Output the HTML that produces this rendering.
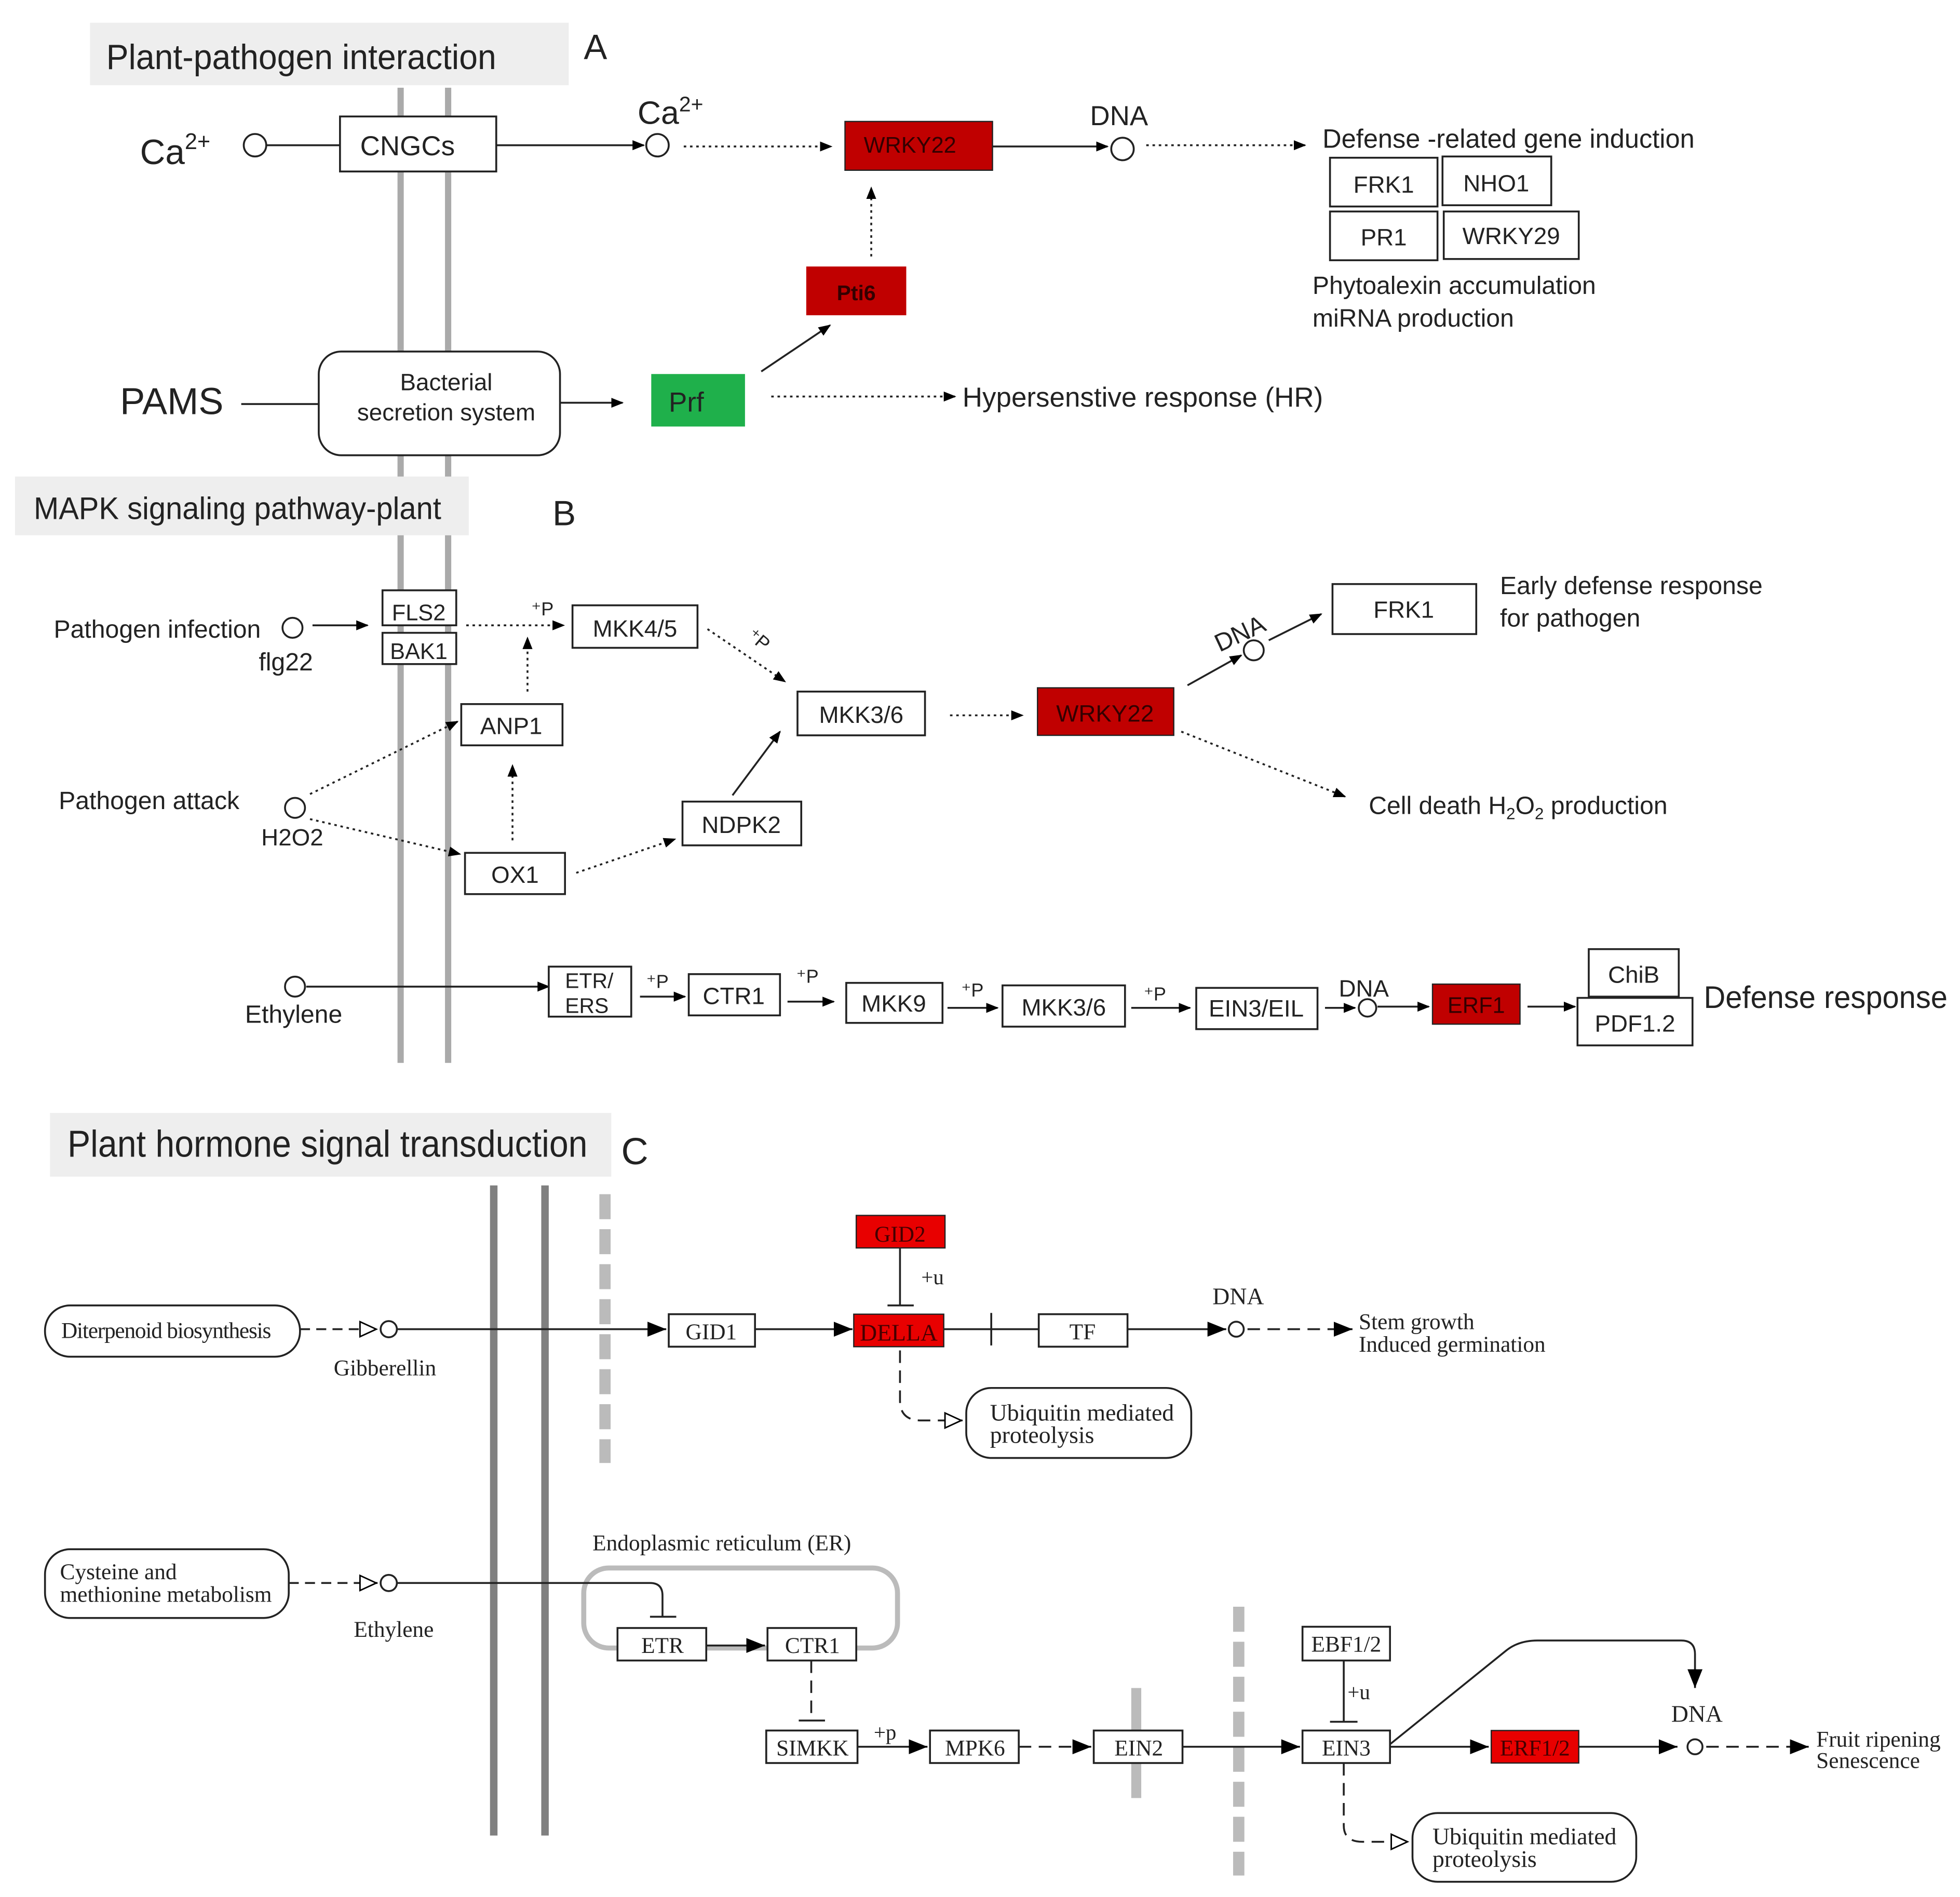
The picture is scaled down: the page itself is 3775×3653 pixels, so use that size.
<!DOCTYPE html>
<html><head><meta charset="utf-8"><style>html,body{margin:0;padding:0;background:#fff}svg{display:block}</style></head>
<body>
<svg xmlns="http://www.w3.org/2000/svg" width="3775" height="3653" viewBox="0 0 1568 1517">
<defs>
<marker id="a" markerWidth="10" markerHeight="10" refX="9" refY="5" orient="auto" markerUnits="userSpaceOnUse"><path d="M0,1 L10,5 L0,9 Z" fill="#000"/></marker>
<marker id="b" markerWidth="16" markerHeight="14" refX="15" refY="7" orient="auto" markerUnits="userSpaceOnUse"><path d="M0,1 L15,7 L0,13 Z" fill="#000"/></marker>
<marker id="o" markerWidth="16" markerHeight="14" refX="15" refY="7" orient="auto" markerUnits="userSpaceOnUse"><path d="M1,1 L14,7 L1,13 Z" fill="#fff" stroke="#000" stroke-width="1.2"/></marker>
</defs>
<rect width="1568" height="1517" fill="#fff"/>
<g font-family="Liberation Sans, sans-serif" fill="#222">
<!-- Section A -->
<rect x="72" y="18" width="383" height="50" fill="#eee"/>
<text x="85" y="55" font-size="28" textLength="312" lengthAdjust="spacingAndGlyphs">Plant-pathogen interaction</text>
<text x="467" y="47" font-size="28">A</text>
<rect x="318" y="70" width="5" height="780" fill="#aaa"/>
<rect x="356" y="70" width="5" height="780" fill="#aaa"/>
<g stroke="#222" stroke-width="1.5" fill="none">
<circle cx="204" cy="116" r="9" fill="#fff"/>
<line x1="213" y1="116" x2="272" y2="116"/>
<rect x="272" y="93" width="125" height="44" fill="#fff"/>
<line x1="397" y1="116" x2="515" y2="116" marker-end="url(#a)"/>
<circle cx="526" cy="116" r="9" fill="#fff"/>
<line x1="547" y1="117" x2="665" y2="117" stroke-dasharray="2,3" marker-end="url(#a)"/>
<line x1="794" y1="117" x2="886" y2="117" marker-end="url(#a)"/>
<circle cx="898" cy="119" r="9" fill="#fff"/>
<line x1="917" y1="116" x2="1044" y2="116" stroke-dasharray="2,3" marker-end="url(#a)"/>
<rect x="1064" y="126" width="86" height="39"/>
<rect x="1154" y="125" width="87" height="39"/>
<rect x="1064" y="169" width="86" height="39"/>
<rect x="1155" y="169" width="108" height="38"/>
<line x1="697" y1="205" x2="697" y2="150" stroke-dasharray="2,3" marker-end="url(#a)"/>
<line x1="193" y1="323" x2="255" y2="323"/>
<rect x="255" y="281" width="193" height="83" rx="18" fill="#fff"/>
<line x1="448" y1="322" x2="498" y2="322" marker-end="url(#a)"/>
<line x1="609" y1="297" x2="664" y2="260" marker-end="url(#a)"/>
<line x1="617" y1="317" x2="764" y2="317" stroke-dasharray="2,3" marker-end="url(#a)"/>
</g>
<text x="112" y="131" font-size="28">Ca<tspan font-size="18" dy="-12">2+</tspan></text>
<text x="326" y="124" font-size="22" text-anchor="middle">CNGCs</text>
<text x="510" y="99" font-size="26">Ca<tspan font-size="17" dy="-10">2+</tspan></text>
<rect x="676" y="97" width="118" height="39" fill="#c00000" stroke="#222"/>
<text x="728" y="122" font-size="18" text-anchor="middle" fill="#300">WRKY22</text>
<text x="872" y="100" font-size="22">DNA</text>
<text x="1058" y="118" font-size="21">Defense  -related gene induction</text>
<text x="1107" y="154" font-size="19" text-anchor="middle">FRK1</text>
<text x="1197" y="153" font-size="19" text-anchor="middle">NHO1</text>
<text x="1107" y="196" font-size="19" text-anchor="middle">PR1</text>
<text x="1209" y="195" font-size="19" text-anchor="middle">WRKY29</text>
<text x="1050" y="235" font-size="20">Phytoalexin accumulation</text>
<text x="1050" y="261" font-size="20">miRNA production</text>
<rect x="645" y="213" width="80" height="39" fill="#c00000"/>
<text x="685" y="240" font-size="17" text-anchor="middle" fill="#300" font-weight="bold">Pti6</text>
<text x="96" y="331" font-size="30">PAMS</text>
<text x="357" y="312" font-size="19" text-anchor="middle">Bacterial</text>
<text x="357" y="336" font-size="19" text-anchor="middle">secretion system</text>
<rect x="521" y="299" width="75" height="42" fill="#1fb04b"/>
<text x="535" y="329" font-size="22">Prf</text>
<text x="770" y="325" font-size="22">Hypersenstive  response  (HR)</text>

<!-- Section B -->
<rect x="12" y="381" width="363" height="47" fill="#eee"/>
<text x="27" y="415" font-size="25" textLength="326" lengthAdjust="spacingAndGlyphs">MAPK signaling pathway-plant</text>
<text x="442" y="420" font-size="28">B</text>
<g stroke="#222" stroke-width="1.5" fill="none">
<circle cx="234" cy="502" r="8" fill="#fff"/>
<line x1="250" y1="500" x2="294" y2="500" marker-end="url(#a)"/>
<rect x="306" y="472" width="59" height="28" fill="#fff"/>
<rect x="306" y="506" width="59" height="25" fill="#fff"/>
<line x1="373" y1="500" x2="451" y2="500" stroke-dasharray="2,3" marker-end="url(#a)"/>
<rect x="458" y="484" width="100" height="34"/>
<rect x="369" y="563" width="81" height="33" fill="#fff"/>
<line x1="422" y1="553" x2="422" y2="510" stroke-dasharray="2,3" marker-end="url(#a)"/>
<line x1="566" y1="503" x2="628" y2="545" stroke-dasharray="2,3" marker-end="url(#a)"/>
<rect x="638" y="553" width="102" height="35"/>
<line x1="760" y1="572" x2="818" y2="572" stroke-dasharray="2,3" marker-end="url(#a)"/>
<line x1="950" y1="548" x2="993" y2="524" marker-end="url(#a)"/>
<circle cx="1003" cy="520" r="8" fill="#fff"/>
<line x1="1015" y1="512" x2="1057" y2="491" marker-end="url(#a)"/>
<rect x="1066" y="467" width="115" height="40"/>
<line x1="945" y1="585" x2="1076" y2="637" stroke-dasharray="2,3" marker-end="url(#a)"/>
<circle cx="236" cy="646" r="8" fill="#fff"/>
<line x1="248" y1="635" x2="366" y2="577" stroke-dasharray="2,3" marker-end="url(#a)"/>
<line x1="248" y1="655" x2="368" y2="683" stroke-dasharray="2,3" marker-end="url(#a)"/>
<rect x="372" y="682" width="80" height="33" fill="#fff"/>
<line x1="410" y1="672" x2="410" y2="612" stroke-dasharray="2,3" marker-end="url(#a)"/>
<line x1="461" y1="698" x2="540" y2="671" stroke-dasharray="2,3" marker-end="url(#a)"/>
<rect x="546" y="641" width="95" height="35"/>
<line x1="586" y1="636" x2="624" y2="585" marker-end="url(#a)"/>
<circle cx="236" cy="789" r="8" fill="#fff"/>
<line x1="245" y1="789" x2="439" y2="789" marker-end="url(#a)"/>
<rect x="439" y="773" width="66" height="40" fill="#fff"/>
<line x1="512" y1="797" x2="548" y2="797" marker-end="url(#a)"/>
<rect x="551" y="779" width="73" height="33"/>
<line x1="630" y1="801" x2="667" y2="801" marker-end="url(#a)"/>
<rect x="677" y="786" width="77" height="32"/>
<line x1="758" y1="806" x2="798" y2="806" marker-end="url(#a)"/>
<rect x="802" y="788" width="98" height="33"/>
<line x1="905" y1="806" x2="952" y2="806" marker-end="url(#a)"/>
<rect x="957" y="790" width="97" height="33"/>
<line x1="1060" y1="806" x2="1084" y2="806" marker-end="url(#a)"/>
<circle cx="1094" cy="806" r="7" fill="#fff"/>
<line x1="1102" y1="805" x2="1143" y2="805" marker-end="url(#a)"/>
<line x1="1222" y1="805" x2="1260" y2="805" marker-end="url(#a)"/>
<rect x="1271" y="759" width="72" height="38"/>
<rect x="1262" y="798" width="92" height="38"/>
</g>
<text x="43" y="510" font-size="20">Pathogen infection</text>
<text x="335" y="496" font-size="18" text-anchor="middle">FLS2</text>
<text x="335" y="527" font-size="18" text-anchor="middle">BAK1</text>
<text x="207" y="536" font-size="20">flg22</text>
<text x="425" y="492" font-size="15">⁺P</text>
<text x="508" y="509" font-size="19" text-anchor="middle">MKK4/5</text>
<text x="409" y="587" font-size="19" text-anchor="middle">ANP1</text>
<text x="596" y="512" font-size="15" transform="rotate(40 600 512)">⁺P</text>
<text x="689" y="578" font-size="19" text-anchor="middle">MKK3/6</text>
<rect x="830" y="550" width="109" height="38" fill="#c00000" stroke="#222"/>
<text x="884" y="577" font-size="19" text-anchor="middle" fill="#300">WRKY22</text>
<text x="970" y="514" font-size="20" transform="rotate(-25 990 505)">DNA</text>
<text x="1123" y="494" font-size="19" text-anchor="middle">FRK1</text>
<text x="1200" y="475" font-size="20">Early defense response</text>
<text x="1200" y="501" font-size="20">for pathogen</text>
<text x="1095" y="651" font-size="20">Cell death H<tspan font-size="13" dy="4">2</tspan><tspan dy="-4">O</tspan><tspan font-size="13" dy="4">2</tspan><tspan dy="-4"> production</tspan></text>
<text x="47" y="647" font-size="20">Pathogen attack</text>
<text x="209" y="676" font-size="19">H2O2</text>
<text x="412" y="706" font-size="19" text-anchor="middle">OX1</text>
<text x="593" y="666" font-size="19" text-anchor="middle">NDPK2</text>
<text x="196" y="818" font-size="20">Ethylene</text>
<text x="452" y="790" font-size="17">ETR/</text>
<text x="452" y="810" font-size="17">ERS</text>
<text x="517" y="790" font-size="15">⁺P</text>
<text x="587" y="803" font-size="19" text-anchor="middle">CTR1</text>
<text x="637" y="786" font-size="15">⁺P</text>
<text x="715" y="809" font-size="19" text-anchor="middle">MKK9</text>
<text x="769" y="797" font-size="15">⁺P</text>
<text x="851" y="812" font-size="19" text-anchor="middle">MKK3/6</text>
<text x="915" y="800" font-size="15">⁺P</text>
<text x="1005" y="813" font-size="19" text-anchor="middle">EIN3/EIL</text>
<text x="1071" y="797" font-size="19">DNA</text>
<rect x="1146" y="787" width="70" height="32" fill="#c00000" stroke="#222"/>
<text x="1181" y="810" font-size="18" text-anchor="middle" fill="#300">ERF1</text>
<text x="1307" y="786" font-size="19" text-anchor="middle">ChiB</text>
<text x="1308" y="825" font-size="19" text-anchor="middle">PDF1.2</text>
<text x="1363" y="806" font-size="25" textLength="195" lengthAdjust="spacingAndGlyphs">Defense response</text>

<!-- Section C -->
<rect x="40" y="890" width="449" height="51" fill="#eee"/>
<text x="54" y="925" font-size="30" textLength="416" lengthAdjust="spacingAndGlyphs">Plant hormone signal transduction</text>
<text x="497" y="931" font-size="30">C</text>
</g>
<g font-family="Liberation Serif, serif" fill="#222">
<rect x="392" y="948" width="6" height="520" fill="#808080"/>
<rect x="433" y="948" width="6" height="520" fill="#808080"/>
<line x1="484" y1="955" x2="484" y2="1170" stroke="#bbb" stroke-width="9" stroke-dasharray="20,8"/>
<line x1="991" y1="1285" x2="991" y2="1500" stroke="#bbb" stroke-width="9" stroke-dasharray="20,8"/>
<rect x="905" y="1350" width="8" height="88" fill="#bbb"/>
<rect x="467" y="1254" width="251" height="64" rx="20" fill="none" stroke="#bbb" stroke-width="4"/>
<g stroke="#222" stroke-width="1.5" fill="none">
<rect x="36" y="1044" width="204" height="41" rx="20"/>
<line x1="240" y1="1063" x2="302" y2="1063" stroke-dasharray="8,5" marker-end="url(#o)"/>
<circle cx="311" cy="1063" r="6.5" fill="#fff"/>
<line x1="318" y1="1063" x2="533" y2="1063" marker-end="url(#b)"/>
<rect x="535" y="1051" width="69" height="26" fill="#fff"/>
<line x1="604" y1="1063" x2="682" y2="1063" marker-end="url(#b)"/>
<line x1="720" y1="998" x2="720" y2="1044"/>
<line x1="710" y1="1044" x2="731" y2="1044"/>
<line x1="755" y1="1063" x2="831" y2="1063"/>
<line x1="793" y1="1050" x2="793" y2="1076"/>
<rect x="831" y="1051" width="71" height="26"/>
<line x1="902" y1="1063" x2="981" y2="1063" marker-end="url(#b)"/>
<circle cx="989" cy="1063" r="6" fill="#fff"/>
<line x1="998" y1="1063" x2="1082" y2="1063" stroke-dasharray="10,6" marker-end="url(#b)"/>
<path d="M720,1080 L720,1120 Q720,1136 737,1136 L770,1136" stroke-dasharray="10,6" marker-end="url(#o)"/>
<rect x="773" y="1110" width="180" height="56" rx="20"/>
<rect x="36" y="1239" width="195" height="55" rx="20"/>
<line x1="231" y1="1266" x2="302" y2="1266" stroke-dasharray="8,5" marker-end="url(#o)"/>
<circle cx="311" cy="1266" r="6.5" fill="#fff"/>
<path d="M318,1266 L520,1266 Q530,1266 530,1276 L530,1293"/>
<line x1="520" y1="1293" x2="541" y2="1293"/>
<rect x="494" y="1302" width="71" height="26" fill="#fff"/>
<line x1="565" y1="1316" x2="612" y2="1316" marker-end="url(#b)"/>
<rect x="614" y="1302" width="71" height="26" fill="#fff"/>
<line x1="649" y1="1328" x2="649" y2="1376" stroke-dasharray="10,6"/>
<line x1="639" y1="1376" x2="660" y2="1376"/>
<rect x="613" y="1384" width="73" height="26"/>
<line x1="686" y1="1397" x2="742" y2="1397" marker-end="url(#b)"/>
<rect x="744" y="1384" width="71" height="26"/>
<line x1="815" y1="1397" x2="873" y2="1397" stroke-dasharray="10,6" marker-end="url(#b)"/>
<rect x="875" y="1384" width="71" height="26" fill="#fff"/>
<line x1="946" y1="1397" x2="1040" y2="1397" marker-end="url(#b)"/>
<rect x="1042" y="1384" width="70" height="26"/>
<rect x="1042" y="1301" width="70" height="27"/>
<line x1="1075" y1="1328" x2="1075" y2="1377"/>
<line x1="1064" y1="1377" x2="1086" y2="1377"/>
<line x1="1112" y1="1397" x2="1191" y2="1397" marker-end="url(#b)"/>
<path d="M1112,1395 L1205,1320 Q1215,1312 1230,1312 L1345,1312 Q1356,1312 1356,1323 L1356,1350" marker-end="url(#b)"/>
<line x1="1263" y1="1397" x2="1342" y2="1397" marker-end="url(#b)"/>
<circle cx="1356" cy="1397" r="6" fill="#fff"/>
<line x1="1365" y1="1397" x2="1447" y2="1397" stroke-dasharray="10,6" marker-end="url(#b)"/>
<path d="M1075,1410 L1075,1460 Q1075,1473 1090,1473 L1127,1473" stroke-dasharray="10,6" marker-end="url(#o)"/>
<rect x="1130" y="1450" width="179" height="55" rx="20"/>
</g>
<text x="49" y="1070" font-size="18" letter-spacing="-0.5">Diterpenoid biosynthesis</text>
<text x="267" y="1100" font-size="18">Gibberellin</text>
<text x="569" y="1071" font-size="18" text-anchor="middle">GID1</text>
<rect x="683" y="1051" width="72" height="26" fill="#e80000" stroke="#222"/>
<text x="719" y="1072" font-size="19" text-anchor="middle" fill="#400">DELLA</text>
<rect x="685" y="972" width="71" height="26" fill="#e80000" stroke="#222"/>
<text x="720" y="993" font-size="18" text-anchor="middle" fill="#400">GID2</text>
<text x="737" y="1027" font-size="17">+u</text>
<text x="866" y="1071" font-size="18" text-anchor="middle">TF</text>
<text x="970" y="1043" font-size="19">DNA</text>
<text x="1087" y="1063" font-size="18">Stem growth</text>
<text x="1087" y="1081" font-size="18">Induced germination</text>
<text x="792" y="1136" font-size="19">Ubiquitin mediated</text>
<text x="792" y="1154" font-size="19">proteolysis</text>
<text x="48" y="1263" font-size="18">Cysteine and</text>
<text x="48" y="1281" font-size="18">methionine metabolism</text>
<text x="283" y="1309" font-size="18">Ethylene</text>
<text x="474" y="1240" font-size="18">Endoplasmic reticulum (ER)</text>
<text x="530" y="1322" font-size="18" text-anchor="middle">ETR</text>
<text x="650" y="1322" font-size="18" text-anchor="middle">CTR1</text>
<text x="650" y="1404" font-size="18" text-anchor="middle">SIMKK</text>
<text x="699" y="1391" font-size="17">+p</text>
<text x="780" y="1404" font-size="18" text-anchor="middle">MPK6</text>
<text x="911" y="1404" font-size="18" text-anchor="middle">EIN2</text>
<text x="1077" y="1404" font-size="18" text-anchor="middle">EIN3</text>
<text x="1077" y="1321" font-size="18" text-anchor="middle">EBF1/2</text>
<text x="1078" y="1359" font-size="17">+u</text>
<rect x="1193" y="1384" width="70" height="26" fill="#e80000" stroke="#222"/>
<text x="1228" y="1404" font-size="18" text-anchor="middle" fill="#400">ERF1/2</text>
<text x="1337" y="1377" font-size="19">DNA</text>
<text x="1453" y="1397" font-size="18">Fruit ripening</text>
<text x="1453" y="1414" font-size="18">Senescence</text>
<text x="1146" y="1475" font-size="19">Ubiquitin mediated</text>
<text x="1146" y="1493" font-size="19">proteolysis</text>
</g>
</svg>
</body></html>
